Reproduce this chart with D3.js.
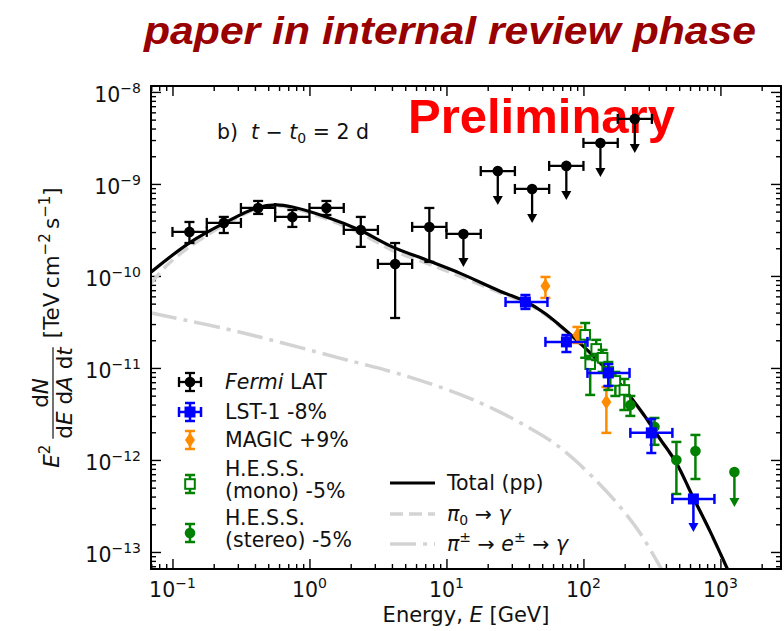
<!DOCTYPE html>
<html>
<head>
<meta charset="utf-8">
<script src="https://cdn.jsdelivr.net/npm/d3@7"></script>
<style>
  body { margin: 0; background: #fff; }
  svg text { font-family: "DejaVu Sans", sans-serif; fill: #111; white-space: pre; }
</style>
</head>
<body>
<svg id="chart" width="784" height="631"></svg>
<script>
// ---------------- data ----------------
// axis limits (GeV, TeV cm^-2 s^-1)
const xLimits = [0.0697, 2768];
const yLimits = [6.53e-14, 1.16e-8];
const xMajorTicks = [0.1, 1, 10, 100, 1000];
const yMajorTicks = [1e-13, 1e-12, 1e-11, 1e-10, 1e-9, 1e-8];

// Fermi-LAT: log-spaced bin edges, detections and upper limits
const fermiEdges = [0.1, 0.178, 0.316, 0.562, 1.0, 1.78, 3.16, 5.62, 10, 17.8, 31.6, 56.2, 100, 178, 316];
const fermiE   = [0.133, 0.237, 0.422, 0.75, 1.33, 2.37, 4.22, 7.5];
const fermiF   = [3.01e-10, 3.77e-10, 5.48e-10, 4.38e-10, 5.48e-10, 3.16e-10, 1.35e-10, 3.41e-10];
const fermiFhi = [3.86e-10, 4.38e-10, 6.53e-10, 5.21e-10, 6.53e-10, 4.38e-10, 2.28e-10, 5.48e-10];
const fermiFlo = [2.28e-10, 2.93e-10, 4.72e-10, 3.41e-10, 4.60e-10, 2.07e-10, 3.49e-11, 1.42e-10];
const fermiUlE   = [13.3, 23.7, 42.2, 75, 133, 237];
const fermiUlF   = [2.86e-10, 1.38e-9, 8.82e-10, 1.57e-9, 2.79e-9, 5.09e-9];
const fermiUlTip = [1.25e-10, 5.91e-10, 3.77e-10, 6.70e-10, 1.19e-9, 2.17e-9];

// LST-1 (-8%)
const lstE   = [37.7, 75.1, 152, 313];
const lstElo = [27, 52.8, 107, 220];
const lstEhi = [54.6, 107, 217, 446];
const lstF   = [5.21e-11, 1.92e-11, 8.83e-12, 1.97e-12];
const lstFhi = [6.21e-11, 2.28e-11, 1.10e-11, 2.79e-12];
const lstFlo = [4.38e-11, 1.49e-11, 6.37e-12, 1.19e-12];
const lstUlE = [635], lstUlElo = [446], lstUlEhi = [904];
const lstUlF = [3.77e-13], lstUlTip = [1.65e-13];

// MAGIC (+9%)
const magicE   = [52.8, 90.4, 147];
const magicF   = [7.79e-11, 2.28e-11, 4.27e-12];
const magicFhi = [9.75e-11, 2.79e-11, 6.21e-12];
const magicFlo = [5.77e-11, 1.87e-11, 1.97e-12];

// H.E.S.S. mono (-5%)
const hessMonoE   = [103, 112, 124, 138, 152, 171, 199];
const hessMonoF   = [2.29e-11, 1.10e-11, 1.61e-11, 1.29e-11, 9.05e-12, 7.23e-12, 5.77e-12];
const hessMonoFhi = [3.08e-11, 1.35e-11, 2.02e-11, 1.57e-11, 1.16e-11, 9.05e-12, 7.59e-12];
const hessMonoFlo = [1.29e-11, 5.09e-12, 1.22e-11, 9.05e-12, 5.77e-12, 4.96e-12, 3.49e-12];

// H.E.S.S. stereo (-5%)
const hessStereoE   = [220, 330, 477, 657];
const hessStereoF   = [3.96e-12, 2.29e-12, 1.00e-12, 1.25e-12];
const hessStereoFhi = [4.96e-12, 2.86e-12, 1.57e-12, 1.87e-12];
const hessStereoFlo = [3.01e-12, 1.46e-12, 4.27e-13, 6.21e-13];
const hessStereoUlE = [1265], hessStereoUlF = [7.41e-13], hessStereoUlTip = [3.08e-13];

// model curves (pp)
const totalE = [0.07, 0.133, 0.240, 0.410, 0.574, 0.751, 1.33, 2.32, 4.03, 7.14, 12.4, 24.4, 38.4, 51.9, 66.8, 88.9, 131, 183, 270, 359, 477, 625, 832, 1125];
const totalF = [1.105e-10, 2.29e-10, 3.77e-10, 5.48e-10, 5.92e-10, 5.62e-10, 4.38e-10, 3.16e-10, 2.07e-10, 1.49e-10, 1.08e-10, 6.87e-11, 5.21e-11, 3.96e-11, 2.93e-11, 2.02e-11, 1.16e-11, 6.87e-12, 3.24e-12, 1.73e-12, 9.27e-13, 4.06e-13, 1.73e-13, 6.53e-14];
const pi0E = [0.07, 0.0904, 0.133, 0.240, 0.410, 0.574, 0.751, 1.33, 2.32, 4.03, 7.14, 12.4, 24.4, 38.4, 51.9, 66.8, 88.9, 131, 183, 270, 359, 477, 625, 832, 1125];
const pi0F = [8.4e-11, 1.29e-10, 2.07e-10, 3.6e-10, 5.35e-10, 5.77e-10, 5.48e-10, 4.17e-10, 2.93e-10, 1.9e-10, 1.38e-10, 1.0e-10, 6.6e-11, 5.05e-11, 3.86e-11, 2.87e-11, 1.98e-11, 1.14e-11, 6.78e-12, 3.2e-12, 1.71e-12, 9.2e-13, 4.03e-13, 1.72e-13, 6.5e-14];
const secE = [0.07, 0.308, 1.66, 4.54, 12.4, 24.4, 40.4, 59.4, 84.5, 131, 183, 256, 371];
const secF = [3.96e-11, 2.46e-11, 1.28e-11, 8.6e-12, 5.21e-12, 3.33e-12, 2.23e-12, 1.57e-12, 1.03e-12, 5.48e-13, 3.16e-13, 1.65e-13, 6.53e-14];

// ---------------- layout ----------------
const svg = d3.select("#chart");
const frame = { left: 151, right: 781, top: 86, bottom: 569 };
const C = { black: "#000", blue: "#0000ff", orange: "#ff8c00", green: "#008000", gray: "#d3d3d3" };

const x = d3.scaleLog().domain(xLimits).range([frame.left, frame.right]);
const y = d3.scaleLog().domain(yLimits).range([frame.bottom, frame.top]);

svg.append("defs").append("clipPath").attr("id", "plotclip")
  .append("rect").attr("x", frame.left).attr("y", frame.top)
  .attr("width", frame.right - frame.left).attr("height", frame.bottom - frame.top);

// ---------------- titles ----------------
svg.append("text").attr("x", 144).attr("y", 44)
  .attr("textLength", 612).attr("lengthAdjust", "spacingAndGlyphs")
  .style("font-family", "'Liberation Sans', Arial, sans-serif")
  .style("font-weight", "bold").style("font-style", "italic")
  .style("font-size", "39px").style("fill", "#990000")
  .text("paper in internal review phase");

// ---------------- axes ----------------
const isMajor = v => Math.abs(Math.log10(v) - Math.round(Math.log10(v))) < 1e-6;
const xMinor = x.ticks().filter(v => !isMajor(v));
const yMinor = y.ticks().filter(v => !isMajor(v));

function tickAxis(gen, scale, values, size, transform) {
  const g = svg.append("g").attr("transform", transform)
    .call(gen(scale).tickValues(values).tickSize(-size).tickFormat(""));
  g.select(".domain").remove();
  g.selectAll(".tick line").attr("stroke", "#000").attr("stroke-width", 1.4);
  return g;
}
[[xMajorTicks, 10], [xMinor, 5]].forEach(([vals, s]) => {
  tickAxis(d3.axisBottom, x, vals, s, `translate(0,${frame.bottom})`);
  tickAxis(d3.axisTop, x, vals, s, `translate(0,${frame.top})`);
});
[[yMajorTicks, 10], [yMinor, 5]].forEach(([vals, s]) => {
  tickAxis(d3.axisLeft, y, vals, s, `translate(${frame.left},0)`);
  tickAxis(d3.axisRight, y, vals, s, `translate(${frame.right},0)`);
});

function powLabel(sel, v) {
  const p = Math.round(Math.log10(v));
  sel.append("tspan").text("10");
  sel.append("tspan").attr("font-size", 14).attr("dy", -9)
    .text(p < 0 ? "\u2212" + (-p) : String(p));
}
svg.append("g").selectAll("text").data(xMajorTicks).join("text")
  .attr("x", d => x(d)).attr("y", 597).attr("text-anchor", "middle")
  .attr("font-size", 20.5)
  .each(function (d) { powLabel(d3.select(this), d); });
svg.append("g").selectAll("text").data(yMajorTicks).join("text")
  .attr("x", 141).attr("y", d => y(d) + 10).attr("text-anchor", "end")
  .attr("font-size", 20.5)
  .each(function (d) { powLabel(d3.select(this), d); });

// x-axis title
const xt = svg.append("text").attr("x", (frame.left + frame.right) / 2).attr("y", 622)
  .attr("text-anchor", "middle").attr("font-size", 21);
xt.append("tspan").text("Energy, ");
xt.append("tspan").attr("font-style", "italic").text("E");
xt.append("tspan").text(" [GeV]");

// y-axis title: E^2 dN/(dE dA dt) [TeV cm^-2 s^-1], rotated
(function () {
  const fs = 21.5;
  const g = svg.append("g");
  const e2 = g.append("text").attr("font-size", fs).attr("x", 0).attr("y", 0);
  e2.append("tspan").attr("font-style", "italic").text("E");
  e2.append("tspan").attr("font-size", 15).attr("dy", -9).text("2");
  const w1 = e2.node().getComputedTextLength();

  const fx0 = w1 + 6;
  const den = g.append("text").attr("font-size", fs).attr("y", 13).attr("text-anchor", "middle");
  den.append("tspan").text("d");
  den.append("tspan").attr("font-style", "italic").text("E");
  den.append("tspan").text(" d");
  den.append("tspan").attr("font-style", "italic").text("A");
  den.append("tspan").text(" d");
  den.append("tspan").attr("font-style", "italic").text("t");
  const dw = den.node().getComputedTextLength();
  den.attr("x", fx0 + dw / 2);
  const num = g.append("text").attr("font-size", fs).attr("y", -11)
    .attr("text-anchor", "middle").attr("x", fx0 + dw / 2);
  num.append("tspan").text("d");
  num.append("tspan").attr("font-style", "italic").text("N");
  g.append("line").attr("x1", fx0).attr("x2", fx0 + dw).attr("y1", -6).attr("y2", -6)
    .attr("stroke", "#111").attr("stroke-width", 1.2);

  const bx = fx0 + dw + 9;
  const br = g.append("text").attr("font-size", fs).attr("x", bx).attr("y", 0);
  br.append("tspan").text("[TeV\u2009cm");
  br.append("tspan").attr("font-size", 15).attr("dy", -9).text("\u22122");
  br.append("tspan").attr("dy", 9).text("\u2009s");
  br.append("tspan").attr("font-size", 15).attr("dy", -9).text("\u22121");
  br.append("tspan").attr("dy", 9).text("]");
  const total = bx + br.node().getComputedTextLength();
  const cy = (frame.top + frame.bottom) / 2;
  g.attr("transform", `translate(59,${cy + total / 2}) rotate(-90)`);
})();

// ---------------- annotations (under the data) ----------------
const ann = svg.append("text").attr("x", 217).attr("y", 139).attr("font-size", 20.5);
ann.append("tspan").text("b)  ");
ann.append("tspan").attr("font-style", "italic").text("t");
ann.append("tspan").text(" \u2212 ");
ann.append("tspan").attr("font-style", "italic").text("t");
ann.append("tspan").attr("font-size", 14).attr("dy", 4).text("0");
ann.append("tspan").attr("dy", -4).text(" = 2 d");

svg.append("text").attr("x", 408).attr("y", 133)
  .style("font-family", "'Liberation Sans', Arial, sans-serif")
  .style("font-weight", "bold").style("font-size", "49px").style("fill", "#ff0000")
  .text("Preliminary");

// ---------------- model curves ----------------
const curves = svg.append("g").attr("clip-path", "url(#plotclip)");
const line = d3.line().x(d => x(d[0])).y(d => y(d[1])).curve(d3.curveCatmullRom.alpha(0.5));
curves.append("path").datum(d3.zip(secE, secF)).attr("d", line)
  .attr("fill", "none").attr("stroke", C.gray).attr("stroke-width", 3.5)
  .attr("stroke-dasharray", "26,7,4,7");
curves.append("path").datum(d3.zip(pi0E, pi0F)).attr("d", line)
  .attr("fill", "none").attr("stroke", C.gray).attr("stroke-width", 3.5)
  .attr("stroke-dasharray", "13,6");
curves.append("path").datum(d3.zip(totalE, totalF)).attr("d", line)
  .attr("fill", "none").attr("stroke", C.black).attr("stroke-width", 3.2);

// ---------------- data points ----------------
const CAP = 5;
function marker(g, kind, cx, cy, color) {
  if (kind === "circle") {
    g.append("circle").attr("cx", cx).attr("cy", cy).attr("r", 5.3).attr("fill", color).attr("stroke", "none");
  } else if (kind === "square") {
    g.append("rect").attr("x", cx - 5.5).attr("y", cy - 5.5).attr("width", 11).attr("height", 11)
      .attr("fill", color).attr("stroke", "none");
  } else if (kind === "diamond") {
    g.append("path").attr("d", `M${cx},${cy - 7.5}L${cx + 5},${cy}L${cx},${cy + 7.5}L${cx - 5},${cy}Z`)
      .attr("fill", color).attr("stroke", "none");
  } else if (kind === "opensquare") {
    g.append("rect").attr("x", cx - 4.8).attr("y", cy - 4.8).attr("width", 9.6).attr("height", 9.6)
      .attr("fill", "#fff").attr("stroke", color).attr("stroke-width", 2);
  }
}
function errorPoint(g, o) {
  // o: pixel coords {cx, cy, x0, x1, y0, y1, tip}
  if (o.x0 != null) {
    g.append("line").attr("x1", o.x0).attr("x2", o.x1).attr("y1", o.cy).attr("y2", o.cy);
    [o.x0, o.x1].forEach(v => g.append("line").attr("x1", v).attr("x2", v)
      .attr("y1", o.cy - CAP).attr("y2", o.cy + CAP));
  }
  if (o.tip != null) {
    g.append("line").attr("x1", o.cx).attr("x2", o.cx).attr("y1", o.cy).attr("y2", o.tip - 6);
    g.append("path").attr("d", `M${o.cx - 5},${o.tip - 9}L${o.cx + 5},${o.tip - 9}L${o.cx},${o.tip}Z`)
      .attr("fill", g.attr("stroke")).attr("stroke", "none");
  } else if (o.y0 != null) {
    g.append("line").attr("x1", o.cx).attr("x2", o.cx).attr("y1", o.y0).attr("y2", o.y1);
    [o.y0, o.y1].forEach(v => g.append("line").attr("x1", o.cx - CAP).attr("x2", o.cx + CAP)
      .attr("y1", v).attr("y2", v));
  }
}
function series(color, lw, kind, rows) {
  const g = svg.append("g").attr("stroke", color).attr("stroke-width", lw).attr("fill", "none");
  rows.forEach(r => {
    errorPoint(g, {
      cx: x(r.e), cy: y(r.f),
      x0: r.elo != null ? x(r.elo) : null, x1: r.ehi != null ? x(r.ehi) : null,
      y0: r.flo != null ? y(r.flo) : null, y1: r.fhi != null ? y(r.fhi) : null,
      tip: r.tip != null ? y(r.tip) : null
    });
    marker(g, kind, x(r.e), y(r.f), color);
  });
}

// Fermi-LAT
series(C.black, 2.3, "circle",
  fermiE.map((e, i) => ({ e, f: fermiF[i], flo: fermiFlo[i], fhi: fermiFhi[i], elo: fermiEdges[i], ehi: fermiEdges[i + 1] }))
  .concat(fermiUlE.map((e, i) => ({ e, f: fermiUlF[i], tip: fermiUlTip[i],
    elo: fermiEdges[fermiE.length + i], ehi: fermiEdges[fermiE.length + i + 1] }))));
// MAGIC
series(C.orange, 2.5, "diamond",
  magicE.map((e, i) => ({ e, f: magicF[i], flo: magicFlo[i], fhi: magicFhi[i] })));
// H.E.S.S. mono
series(C.green, 2.5, "opensquare",
  hessMonoE.map((e, i) => ({ e, f: hessMonoF[i], flo: hessMonoFlo[i], fhi: hessMonoFhi[i] })));
// H.E.S.S. stereo
series(C.green, 2.5, "circle",
  hessStereoE.map((e, i) => ({ e, f: hessStereoF[i], flo: hessStereoFlo[i], fhi: hessStereoFhi[i] }))
  .concat(hessStereoUlE.map((e, i) => ({ e, f: hessStereoUlF[i], tip: hessStereoUlTip[i] }))));
// LST-1
series(C.blue, 2.5, "square",
  lstE.map((e, i) => ({ e, f: lstF[i], flo: lstFlo[i], fhi: lstFhi[i], elo: lstElo[i], ehi: lstEhi[i] }))
  .concat(lstUlE.map((e, i) => ({ e, f: lstUlF[i], tip: lstUlTip[i], elo: lstUlElo[i], ehi: lstUlEhi[i] }))));

// ---------------- frame ----------------
svg.append("rect").attr("x", frame.left).attr("y", frame.top)
  .attr("width", frame.right - frame.left).attr("height", frame.bottom - frame.top)
  .attr("fill", "none").attr("stroke", "#000").attr("stroke-width", 2);

// ---------------- legends ----------------
const leg = svg.append("g");
const lx = 190, tx = 225;
function legendEntry(color, lw, kind, cy, opts) {
  const g = leg.append("g").attr("stroke", color).attr("stroke-width", lw).attr("fill", "none");
  errorPoint(g, { cx: lx, cy, x0: opts.xerr ? lx - 11 : null, x1: opts.xerr ? lx + 11 : null,
    y0: cy + 9, y1: cy - 9 });
  marker(g, kind, lx, cy, color);
}
legendEntry(C.black, 2.3, "circle", 382, { xerr: true });
legendEntry(C.blue, 2.5, "square", 412, { xerr: true });
legendEntry(C.orange, 2.5, "diamond", 440, {});
legendEntry(C.green, 2.5, "opensquare", 484, {});
legendEntry(C.green, 2.5, "circle", 533, {});

function legText(xp, yp, parts) {
  const t = leg.append("text").attr("x", xp).attr("y", yp).attr("font-size", 20.5);
  parts.forEach(p => {
    const s = t.append("tspan").text(p.t);
    if (p.i) s.attr("font-style", "italic");
    if (p.sup) s.attr("font-size", 14).attr("dy", -9);
    if (p.sub) s.attr("font-size", 14).attr("dy", 4);
    if (p.dy) s.attr("dy", p.dy);
  });
}
legText(tx, 389, [{ t: "Fermi", i: true }, { t: " LAT" }]);
legText(tx, 419, [{ t: "LST-1 -8%" }]);
legText(tx, 447, [{ t: "MAGIC +9%" }]);
legText(tx, 476, [{ t: "H.E.S.S." }]);
legText(tx, 498, [{ t: "(mono) -5%" }]);
legText(tx, 525, [{ t: "H.E.S.S." }]);
legText(tx, 547, [{ t: "(stereo) -5%" }]);

const l2x0 = 390, l2x1 = 435, l2tx = 447;
leg.append("line").attr("x1", l2x0).attr("x2", l2x1).attr("y1", 483).attr("y2", 483)
  .attr("stroke", C.black).attr("stroke-width", 3.2);
leg.append("line").attr("x1", l2x0).attr("x2", l2x1).attr("y1", 514).attr("y2", 514)
  .attr("stroke", C.gray).attr("stroke-width", 3.5).attr("stroke-dasharray", "13,6");
leg.append("line").attr("x1", l2x0).attr("x2", l2x1).attr("y1", 544).attr("y2", 544)
  .attr("stroke", C.gray).attr("stroke-width", 3.5).attr("stroke-dasharray", "26,7,4,7");
legText(l2tx, 490, [{ t: "Total (pp)" }]);
legText(l2tx, 521, [{ t: "\u03c0", i: true }, { t: "0", sub: true }, { t: " \u2192 ", dy: -4 }, { t: "\u03b3", i: true }]);
legText(l2tx, 551, [{ t: "\u03c0", i: true }, { t: "\u00b1", sup: true }, { t: " \u2192 ", dy: 9 }, { t: "e", i: true },
  { t: "\u00b1", sup: true }, { t: " \u2192 ", dy: 9 }, { t: "\u03b3", i: true }]);
</script>
</body>
</html>
